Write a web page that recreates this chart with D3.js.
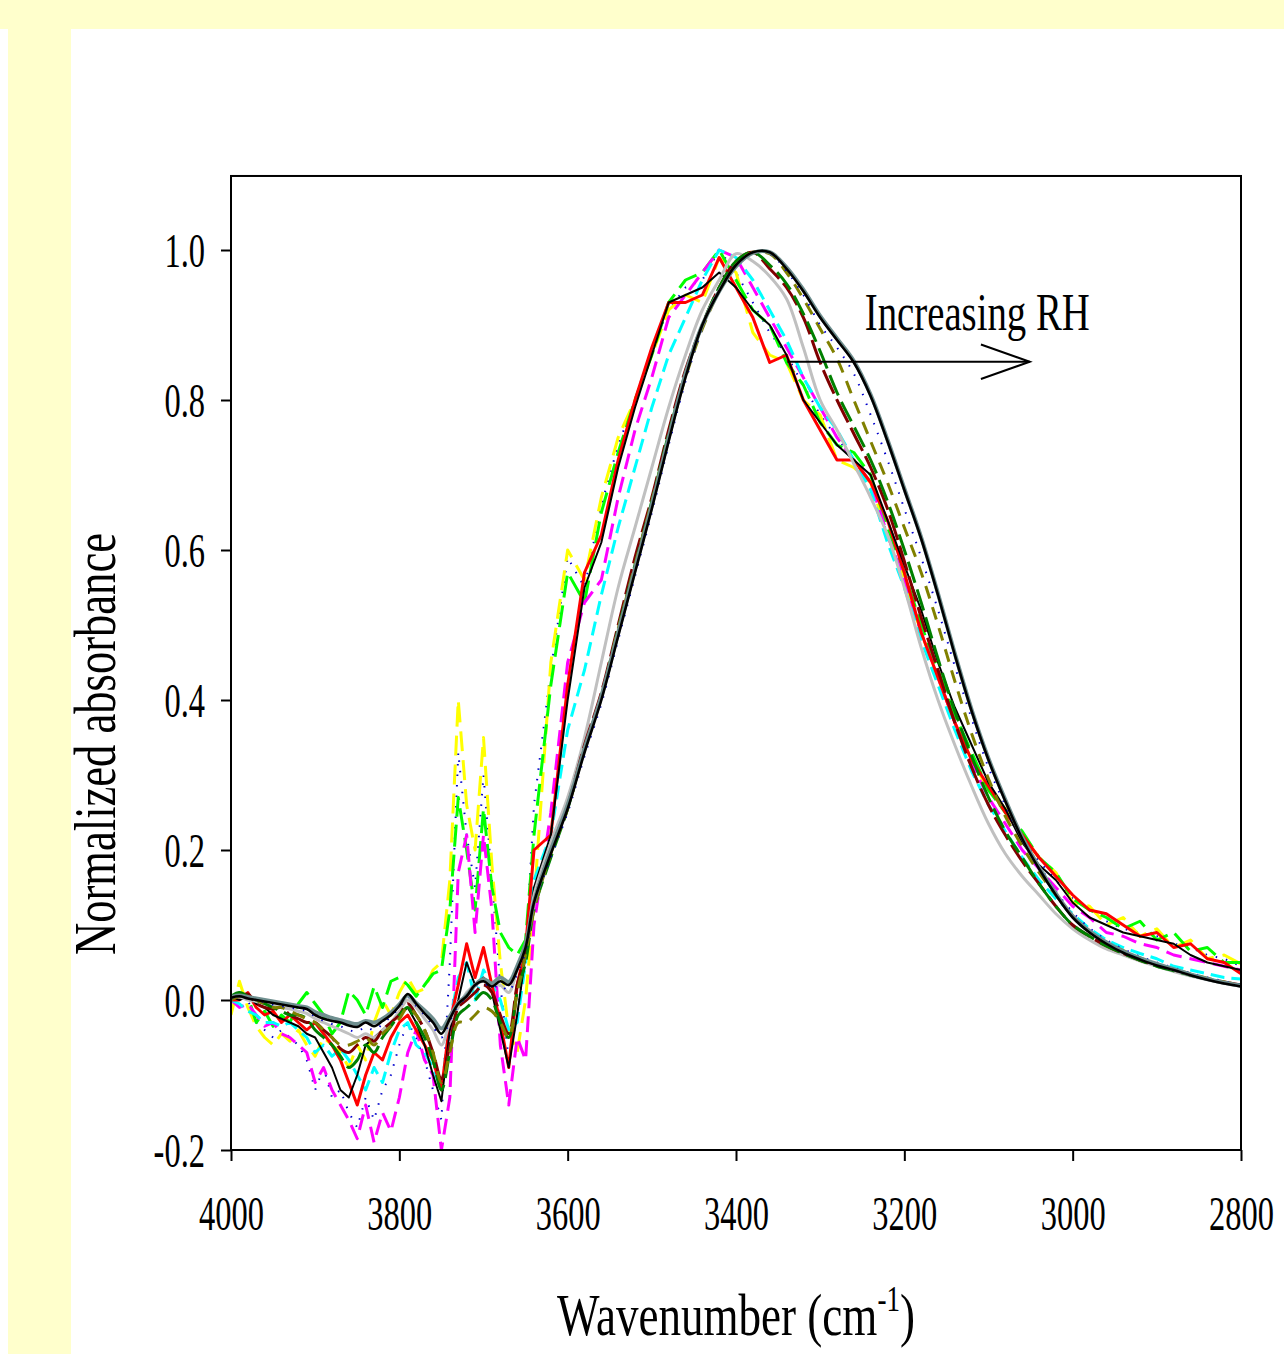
<!DOCTYPE html>
<html><head><meta charset="utf-8">
<script src="https://cdn.jsdelivr.net/npm/d3@7"></script>
<style>body{margin:0;background:#fff;} svg{display:block;}</style>
</head><body>
<svg id="c" width="1284" height="1354"></svg>
<script>
const wavenumbers = [4000,3990,3980,3970,3960,3950,3940,3930,3920,3910,
3900,3890,3880,3870,3860,3850,3840,3830,3820,3810,
3800,3790,3780,3770,3760,3750,3740,3730,3720,3710,
3700,3690,3680,3670,3660,3650,3640,
3620,3600,3580,3560,3540,3520,3500,3480,3460,3440,
3420,3400,3380,3360,3340,3320,3300,3280,3260,3240,
3220,3200,3180,3160,3140,3120,3100,3080,3060,3040,
3020,3000,2980,2960,2940,2920,2900,2880,2860,2840,2820,2800];

const yellowDash = [-0.02,0.025,-0.01,-0.035,-0.05,-0.06,-0.045,-0.055,-0.04,-0.06,
-0.075,-0.05,-0.06,-0.07,-0.09,-0.06,-0.08,-0.03,0.0,-0.02,
0.01,0.03,0.01,0.015,0.04,0.05,0.16,0.40,0.26,0.20,
0.35,0.18,0.05,-0.04,-0.07,0.0,0.13,
0.45,0.60,0.56,0.67,0.75,0.80,0.86,0.92,0.94,0.93,
0.99,0.97,0.89,0.86,0.85,0.80,0.78,0.72,0.71,0.69,
0.62,0.56,0.49,0.43,0.37,0.32,0.28,0.255,0.22,0.19,
0.17,0.13,0.125,0.10,0.11,0.085,0.095,0.07,0.08,0.055,0.06,0.048];

const limeDash = [0.0,0.01,0.005,-0.03,-0.015,-0.035,-0.02,-0.03,-0.005,0.01,
-0.005,-0.02,-0.045,-0.03,0.012,0.0,-0.02,0.018,-0.01,0.025,
0.03,0.02,0.005,0.02,0.035,0.04,0.12,0.27,0.20,0.12,
0.255,0.15,0.09,0.07,0.06,0.08,0.22,
0.42,0.57,0.53,0.65,0.73,0.80,0.86,0.93,0.96,0.97,
1.0,0.96,0.92,0.90,0.85,0.82,0.77,0.74,0.73,0.70,
0.63,0.57,0.50,0.44,0.38,0.33,0.28,0.25,0.225,0.19,
0.17,0.135,0.12,0.11,0.095,0.105,0.08,0.09,0.065,0.07,0.05,0.05];

const magentaDash = [0.0,-0.01,-0.005,-0.02,-0.035,-0.03,-0.045,-0.05,-0.06,-0.07,
-0.11,-0.09,-0.12,-0.14,-0.16,-0.185,-0.14,-0.19,-0.15,-0.175,
-0.13,-0.07,-0.04,-0.08,-0.10,-0.20,-0.13,0.17,0.22,0.09,
0.22,0.12,-0.06,-0.14,-0.05,-0.08,0.10,
0.25,0.45,0.53,0.56,0.67,0.76,0.83,0.91,0.94,0.97,
1.0,0.99,0.95,0.91,0.87,0.83,0.79,0.75,0.72,0.69,
0.62,0.56,0.49,0.43,0.37,0.315,0.27,0.235,0.20,0.175,
0.15,0.125,0.11,0.09,0.085,0.075,0.07,0.06,0.055,0.05,0.045,0.04];

const cyanDash = [0.0,-0.005,-0.015,-0.02,-0.03,-0.03,-0.035,-0.03,-0.04,-0.05,
-0.07,-0.06,-0.075,-0.065,-0.08,-0.10,-0.12,-0.09,-0.11,-0.07,
-0.04,-0.03,-0.06,-0.07,-0.09,-0.12,-0.03,0.03,0.05,0.0,
0.04,0.02,0.0,-0.04,-0.03,0.05,0.16,
0.22,0.36,0.44,0.54,0.63,0.71,0.79,0.86,0.91,0.96,
1.0,0.99,0.96,0.92,0.88,0.83,0.79,0.76,0.72,0.68,
0.61,0.55,0.48,0.42,0.36,0.305,0.26,0.225,0.19,0.16,
0.135,0.115,0.095,0.08,0.07,0.062,0.055,0.045,0.04,0.035,0.03,0.028];

const redSolid = [0.0,0.0,0.01,-0.01,-0.02,-0.015,-0.03,-0.02,-0.03,-0.04,
-0.03,-0.045,-0.06,-0.08,-0.11,-0.14,-0.10,-0.07,-0.08,-0.05,
-0.03,-0.02,-0.04,-0.06,-0.08,-0.12,-0.03,0.02,0.075,0.03,
0.07,0.02,-0.03,-0.09,0.02,0.07,0.20,
0.22,0.42,0.57,0.62,0.72,0.80,0.87,0.93,0.93,0.94,
0.99,0.95,0.91,0.85,0.86,0.80,0.76,0.72,0.72,0.69,
0.64,0.57,0.49,0.43,0.37,0.32,0.285,0.25,0.22,0.19,
0.165,0.14,0.12,0.115,0.10,0.085,0.09,0.07,0.075,0.055,0.05,0.035];

const blackThin = [0.005,0.0,0.005,-0.005,-0.01,-0.02,-0.025,-0.03,-0.035,-0.045,
-0.05,-0.07,-0.09,-0.12,-0.13,-0.10,-0.06,-0.05,-0.04,-0.03,
-0.02,-0.01,-0.03,-0.06,-0.10,-0.135,-0.04,0.0,0.05,0.02,
0.03,0.01,-0.04,-0.09,-0.02,0.06,0.15,
0.22,0.40,0.55,0.61,0.71,0.79,0.86,0.93,0.94,0.95,
0.97,0.95,0.92,0.90,0.86,0.80,0.77,0.74,0.72,0.70,
0.64,0.58,0.52,0.45,0.39,0.34,0.29,0.255,0.21,0.18,
0.16,0.13,0.11,0.10,0.09,0.085,0.08,0.075,0.06,0.05,0.045,0.04];

const dotsNoisy = [-0.01,0.01,0.0,-0.03,-0.04,-0.05,-0.04,-0.05,-0.06,-0.08,
-0.12,-0.09,-0.13,-0.12,-0.15,-0.17,-0.13,-0.16,-0.12,-0.10,
-0.06,-0.03,-0.05,-0.08,-0.12,-0.16,0.05,0.33,0.22,0.15,
0.30,0.16,0.02,-0.08,-0.02,0.06,0.26,
0.44,0.59,0.55,0.66,0.74,0.80,0.87,0.92,0.95,0.96,
1.0,0.97,0.93,0.89,0.86,0.82,0.78,0.75,0.72,0.69,
0.62,0.56,0.49,0.43,0.37,0.32,0.28,0.25,0.215,0.185,
0.16,0.135,0.12,0.105,0.095,0.09,0.085,0.075,0.07,0.06,0.055,0.045];

const lightGray = [0.003,0.004,0.0,-0.002,-0.005,-0.008,-0.01,-0.012,-0.015,-0.018,
-0.025,-0.03,-0.035,-0.04,-0.045,-0.05,-0.045,-0.05,-0.04,-0.03,
-0.015,0.0,-0.01,-0.025,-0.04,-0.06,-0.03,-0.01,0.01,0.02,
0.025,0.02,0.02,0.01,0.04,0.07,0.14,
0.21,0.27,0.35,0.45,0.55,0.63,0.71,0.79,0.86,0.92,
0.96,0.995,0.985,0.965,0.935,0.87,0.80,0.76,0.715,0.67,
0.62,0.55,0.47,0.40,0.34,0.285,0.235,0.195,0.165,0.14,
0.115,0.095,0.08,0.068,0.06,0.052,0.045,0.038,0.032,0.027,0.022,0.018];

const maroon = [0.002,0.005,0.008,-0.005,-0.01,-0.012,-0.01,-0.02,-0.025,-0.03,
-0.03,-0.04,-0.05,-0.065,-0.07,-0.06,-0.05,-0.055,-0.04,-0.03,
-0.02,-0.005,-0.02,-0.04,-0.07,-0.105,-0.06,-0.01,0.0,0.01,
0.02,0.01,-0.02,-0.045,0.02,0.06,0.13,
0.20,0.26,0.34,0.41,0.50,0.59,0.67,0.76,0.84,0.90,
0.95,0.985,0.997,0.975,0.95,0.91,0.85,0.80,0.755,0.71,
0.655,0.585,0.51,0.44,0.37,0.31,0.26,0.22,0.185,0.155,
0.125,0.10,0.085,0.072,0.062,0.053,0.046,0.04,0.034,0.028,0.024,0.02];

const darkGreen = [0.005,0.01,0.005,0.0,-0.005,-0.01,-0.015,-0.02,-0.02,-0.025,
-0.04,-0.05,-0.06,-0.075,-0.09,-0.08,-0.06,-0.07,-0.05,-0.035,
-0.02,-0.01,-0.03,-0.05,-0.08,-0.12,-0.07,-0.02,-0.01,0.0,
0.01,0.0,-0.03,-0.05,0.01,0.05,0.12,
0.19,0.255,0.335,0.405,0.495,0.58,0.665,0.755,0.835,0.90,
0.95,0.985,0.997,0.98,0.955,0.915,0.865,0.81,0.765,0.72,
0.665,0.60,0.53,0.455,0.385,0.325,0.27,0.225,0.19,0.155,
0.125,0.10,0.085,0.072,0.062,0.053,0.045,0.039,0.033,0.028,0.023,0.02];

const olive = [0.0,0.005,0.005,0.0,-0.005,-0.01,-0.01,-0.015,-0.02,-0.025,
-0.03,-0.04,-0.05,-0.06,-0.06,-0.055,-0.05,-0.06,-0.045,-0.035,
-0.025,-0.01,-0.02,-0.04,-0.07,-0.11,-0.07,-0.03,-0.03,-0.02,
-0.01,-0.015,-0.03,-0.05,0.01,0.06,0.12,
0.195,0.255,0.335,0.405,0.495,0.58,0.665,0.75,0.83,0.895,
0.945,0.98,0.997,0.995,0.97,0.935,0.895,0.855,0.80,0.745,
0.69,0.63,0.57,0.50,0.425,0.355,0.295,0.245,0.205,0.17,
0.14,0.112,0.092,0.077,0.066,0.056,0.048,0.041,0.035,0.029,0.024,0.02];

const dotsSmooth = [0.002,0.004,0.003,0.0,-0.003,-0.006,-0.008,-0.01,-0.012,-0.015,
-0.022,-0.028,-0.032,-0.035,-0.04,-0.042,-0.036,-0.04,-0.032,-0.022,
-0.01,0.004,-0.008,-0.02,-0.035,-0.05,-0.028,-0.008,0.004,0.018,
0.022,0.016,0.02,0.012,0.035,0.065,0.125,
0.19,0.25,0.325,0.395,0.48,0.565,0.65,0.74,0.825,0.895,
0.945,0.98,0.996,0.995,0.972,0.94,0.90,0.87,0.835,0.78,
0.72,0.655,0.59,0.52,0.445,0.375,0.31,0.26,0.215,0.18,
0.145,0.117,0.096,0.08,0.068,0.058,0.05,0.043,0.036,0.03,0.025,0.02];

const grayThick = [0.004,0.006,0.004,0.002,0.0,-0.002,-0.004,-0.006,-0.008,-0.01,
-0.016,-0.02,-0.024,-0.027,-0.03,-0.032,-0.028,-0.03,-0.025,-0.017,
-0.006,0.006,-0.004,-0.014,-0.025,-0.038,-0.022,-0.004,0.006,0.02,
0.028,0.022,0.03,0.024,0.045,0.075,0.13,
0.20,0.26,0.335,0.405,0.49,0.575,0.66,0.75,0.835,0.90,
0.945,0.978,0.996,0.997,0.977,0.947,0.912,0.882,0.852,0.807,
0.747,0.682,0.617,0.542,0.462,0.387,0.322,0.267,0.217,0.177,
0.142,0.112,0.092,0.077,0.065,0.056,0.048,0.041,0.034,0.028,0.023,0.019];

const blackThick = [0.003,0.005,0.002,0.0,-0.002,-0.004,-0.006,-0.008,-0.01,-0.012,
-0.02,-0.025,-0.028,-0.03,-0.034,-0.036,-0.03,-0.035,-0.028,-0.02,
-0.008,0.008,-0.005,-0.018,-0.03,-0.045,-0.025,-0.005,0.005,0.02,
0.025,0.018,0.025,0.02,0.04,0.07,0.13,
0.195,0.255,0.33,0.40,0.485,0.57,0.655,0.745,0.83,0.90,
0.945,0.98,0.997,0.997,0.975,0.945,0.91,0.88,0.85,0.805,
0.745,0.68,0.615,0.54,0.46,0.385,0.32,0.265,0.215,0.175,
0.14,0.11,0.09,0.075,0.063,0.054,0.046,0.04,0.033,0.027,0.022,0.018];

const xTickValues = [4000,3800,3600,3400,3200,3000,2800];
const yTickValues = [-0.2,0.0,0.2,0.4,0.6,0.8,1.0];
const xTitle = "Wavenumber (cm";
const xTitleSup = "-1";
const yTitle = "Normalized absorbance";
const annotationText = "Increasing RH";
const arrowFrom = 3339, arrowTo = 3051, arrowLevel = 0.851;

// ---- drawing ----
const svg = d3.select('#c');
const FONT = '"Liberation Serif","Times New Roman",serif';

svg.append('rect').attr('x',0).attr('y',0).attr('width',1284).attr('height',1354).attr('fill','#ffffff');
svg.append('rect').attr('x',0).attr('y',0).attr('width',1284).attr('height',29).attr('fill','#FFFFCC');
svg.append('rect').attr('x',8).attr('y',29).attr('width',63).attr('height',1325).attr('fill','#FFFFCC');

const x = d3.scaleLinear().domain([4000,2800]).range([231,1241]);
const y = d3.scaleLinear().domain([-0.2,1.0]).range([1150,250]);
const yTop = y(1.0987);

svg.append('defs').append('clipPath').attr('id','plotclip')
  .append('rect').attr('x',231).attr('y',yTop).attr('width',1010).attr('height',1150-yTop+1);

const series = [
  {v:dotsNoisy,  color:'#0000cc', w:2,   dash:'1.5,9', curve:'lin'},
  {v:yellowDash, color:'#ffff00', w:3,   dash:'20,9',  curve:'lin'},
  {v:limeDash,   color:'#00ff00', w:3,   dash:'22,8',  curve:'lin'},
  {v:magentaDash,color:'#ff00ff', w:3,   dash:'16,8',  curve:'lin'},
  {v:cyanDash,   color:'#00ffff', w:3,   dash:'14,7',  curve:'lin'},
  {v:redSolid,   color:'#ff0000', w:3,   dash:null,    curve:'lin'},
  {v:blackThin,  color:'#000000', w:2,   dash:null,    curve:'lin'},
  {v:lightGray,  color:'#c0c0c0', w:3,   dash:null,    curve:'smooth'},
  {v:maroon,     color:'#800000', w:3,   dash:'26,6',  curve:'smooth'},
  {v:darkGreen,  color:'#008000', w:3,   dash:'22,7',  curve:'smooth'},
  {v:olive,      color:'#808000', w:3,   dash:'13,9',  curve:'smooth'},
  {v:dotsSmooth, color:'#0000cc', w:2,   dash:'1.5,9', curve:'smooth'},
  {v:grayThick,  color:'#6f8f8f', w:4,   dash:null,    curve:'smooth'},
  {v:blackThick, color:'#000000', w:2.6, dash:null,    curve:'smooth'}
];

const gLines = svg.append('g').attr('clip-path','url(#plotclip)');
series.forEach(s => {
  const line = d3.line()
    .x((d,i) => x(wavenumbers[i]))
    .y(d => y(d))
    .curve(s.curve === 'smooth' ? d3.curveCatmullRom.alpha(0.5) : d3.curveLinear);
  gLines.append('path')
    .attr('d', line(s.v))
    .attr('fill','none')
    .attr('stroke', s.color)
    .attr('stroke-width', s.w)
    .attr('stroke-linejoin','round')
    .attr('stroke-dasharray', s.dash);
});

// frame
svg.append('rect').attr('x',231).attr('y',yTop).attr('width',1010).attr('height',1150-yTop)
  .attr('fill','none').attr('stroke','#000').attr('stroke-width',2);

// axes
const fmt = d => d.toFixed(1);
const gy = svg.append('g').attr('transform','translate(231,0)')
  .call(d3.axisLeft(y).tickValues(yTickValues).tickFormat(fmt).tickSize(10).tickSizeOuter(0));
const gx = svg.append('g').attr('transform','translate(0,1150)')
  .call(d3.axisBottom(x).tickValues(xTickValues).tickFormat(d3.format('d')).tickSize(11).tickSizeOuter(0));
[gx, gy].forEach(g => {
  g.select('.domain').remove();
  g.selectAll('.tick line').attr('stroke','#000').attr('stroke-width',2);
  g.selectAll('.tick text').attr('font-family',FONT).attr('font-size',49).attr('fill','#000');
});
// measure compression from a label
const sample = gx.selectAll('.tick text').filter(d => d === 2800).node();
const sx = 65 / sample.getComputedTextLength();
gx.selectAll('.tick text').attr('x',0).attr('y',0).attr('dy',0)
  .attr('text-anchor','middle').attr('transform',`translate(0,80) scale(${sx},1)`);
gy.selectAll('.tick text').attr('x',0).attr('y',0).attr('dy',0)
  .attr('text-anchor','end').attr('transform',`translate(-26,16) scale(${sx},1)`);

// x title
const gxt = svg.append('g');
const xt = gxt.append('text').attr('font-family',FONT).attr('font-size',60).attr('text-anchor','middle').attr('fill','#000');
xt.append('tspan').text(xTitle);
xt.append('tspan').attr('font-size',36).attr('dy',-24).text(xTitleSup);
xt.append('tspan').attr('dy',24).text(')');
const xtw = xt.node().getBBox().width;
gxt.attr('transform',`translate(736,1335) scale(${358/xtw},1)`);

// y title
const gyt = svg.append('g');
const yt = gyt.append('text').attr('font-family',FONT).attr('font-size',60).attr('text-anchor','middle').attr('fill','#000').text(yTitle);
const ytw = yt.node().getBBox().width;
gyt.attr('transform',`translate(115,744) rotate(-90) scale(${422/ytw},1)`);

// annotation
const gat = svg.append('g');
const at = gat.append('text').attr('font-family',FONT).attr('font-size',52).attr('fill','#000').text(annotationText);
const atw = at.node().getBBox().width;
gat.attr('transform',`translate(${x(3247)},330) scale(${225/atw},1)`);

svg.append('line').attr('x1',x(arrowFrom)).attr('x2',x(arrowTo)).attr('y1',y(arrowLevel)).attr('y2',y(arrowLevel))
  .attr('stroke','#000').attr('stroke-width',2);
svg.append('path')
  .attr('d',`M${x(3109)},${y(0.874)} L${x(arrowTo)},${y(arrowLevel)} L${x(3109)},${y(0.828)}`)
  .attr('fill','none').attr('stroke','#000').attr('stroke-width',2);
</script>
</body></html>
